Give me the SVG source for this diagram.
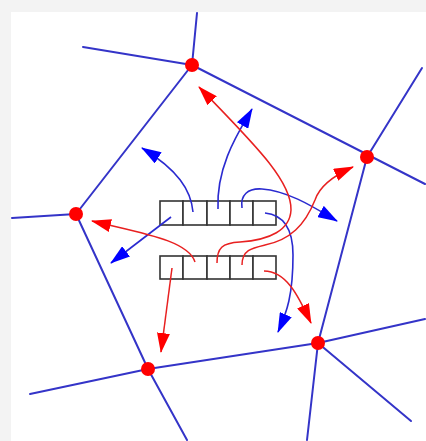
<svg xmlns="http://www.w3.org/2000/svg" width="426" height="441" viewBox="0 0 426 441">
<style>
.edge{fill:none;stroke:#3434c8;stroke-width:2;stroke-linecap:round}
.pt{fill:#ff0000}
.cell{fill:#ffffff;stroke:#333333;stroke-width:1.6}
.ba{fill:none;stroke:#2a2ad0;stroke-width:1.6;marker-end:url(#hb)}
.ra{fill:none;stroke:#e82020;stroke-width:1.5;marker-end:url(#hr)}
</style>
<defs>
<marker id="hb" viewBox="0 0 20 13" refX="19" refY="6.5" markerWidth="20" markerHeight="13" markerUnits="userSpaceOnUse" orient="auto"><path d="M0,0 L20,6.5 L0,13 z" fill="#0000ff"/></marker>
<marker id="hr" viewBox="0 0 20 13" refX="19" refY="6.5" markerWidth="20" markerHeight="13" markerUnits="userSpaceOnUse" orient="auto"><path d="M0,0 L20,6.5 L0,13 z" fill="#ff0000"/></marker>
</defs>
<rect x="0" y="0" width="426" height="441" fill="#f3f3f3"/>
<rect x="11" y="12" width="415" height="429" fill="#ffffff"/>
<g id="connectors">
<g id="edges">
<line class="edge" x1="192" y1="65" x2="197" y2="13"/>
<line class="edge" x1="192" y1="65" x2="83" y2="47"/>
<line class="edge" x1="192" y1="65" x2="425" y2="184"/>
<line class="edge" x1="367" y1="157" x2="422" y2="68"/>
<line class="edge" x1="192" y1="65" x2="76" y2="214"/>
<line class="edge" x1="76" y1="214" x2="12" y2="218"/>
<line class="edge" x1="76" y1="214" x2="148" y2="369"/>
<line class="edge" x1="148" y1="369" x2="30" y2="394"/>
<line class="edge" x1="148" y1="369" x2="187" y2="440"/>
<line class="edge" x1="148" y1="369" x2="318" y2="343"/>
<line class="edge" x1="318" y1="343" x2="425" y2="319"/>
<line class="edge" x1="318" y1="343" x2="411" y2="421"/>
<line class="edge" x1="318" y1="343" x2="307" y2="440"/>
<line class="edge" x1="318" y1="343" x2="367" y2="157"/>
</g>
</g>
<g id="queue-top">
<rect class="cell" x="160" y="201" width="23" height="24"/>
<rect class="cell" x="183" y="201" width="24" height="24"/>
<rect class="cell" x="207" y="201" width="23" height="24"/>
<rect class="cell" x="230" y="201" width="23" height="24"/>
<rect class="cell" x="253" y="201" width="23" height="24"/>
</g>
<g id="queue-bottom">
<rect class="cell" x="160" y="256" width="23" height="23"/>
<rect class="cell" x="183" y="256" width="24" height="23"/>
<rect class="cell" x="207" y="256" width="23" height="23"/>
<rect class="cell" x="230" y="256" width="23" height="23"/>
<rect class="cell" x="253" y="256" width="23" height="23"/>
</g>
<g id="arrows">
<path class="ba" d="M193,212 C191,190 178,170 142,148"/>
<path class="ba" d="M218,209 C216,165 240,130 252,109"/>
<path class="ba" d="M242,208 C240,195 248,188 262,189 C290,191 318,210 337,221"/>
<path class="ba" d="M265,213 C285,215 293,230 293,255 C293,295 287,312 278,332"/>
<path class="ba" d="M171,217 L111,263"/>
<path class="ra" d="M172,268 L161,352"/>
<path class="ra" d="M195,262 C188,240 140,233 92,221"/>
<path class="ra" d="M217,263 C217,248 222,243 240,242 C270,240 290,230 291,210 C292,180 250,140 199,87"/>
<path class="ra" d="M242,265 C242,250 252,248 265,245 C290,240 305,225 315,200 C320,185 335,175 353,167"/>
<path class="ra" d="M264,271 C286,271 298,295 311,323"/>
</g>
<g id="node-top"><circle class="pt" cx="192" cy="65" r="7"/></g>
<g id="node-right"><circle class="pt" cx="367" cy="157" r="7"/></g>
<g id="node-left"><circle class="pt" cx="76" cy="214" r="7"/></g>
<g id="node-bottom-left"><circle class="pt" cx="148" cy="369" r="7"/></g>
<g id="node-bottom-right"><circle class="pt" cx="318" cy="343" r="7"/></g>
</svg>
